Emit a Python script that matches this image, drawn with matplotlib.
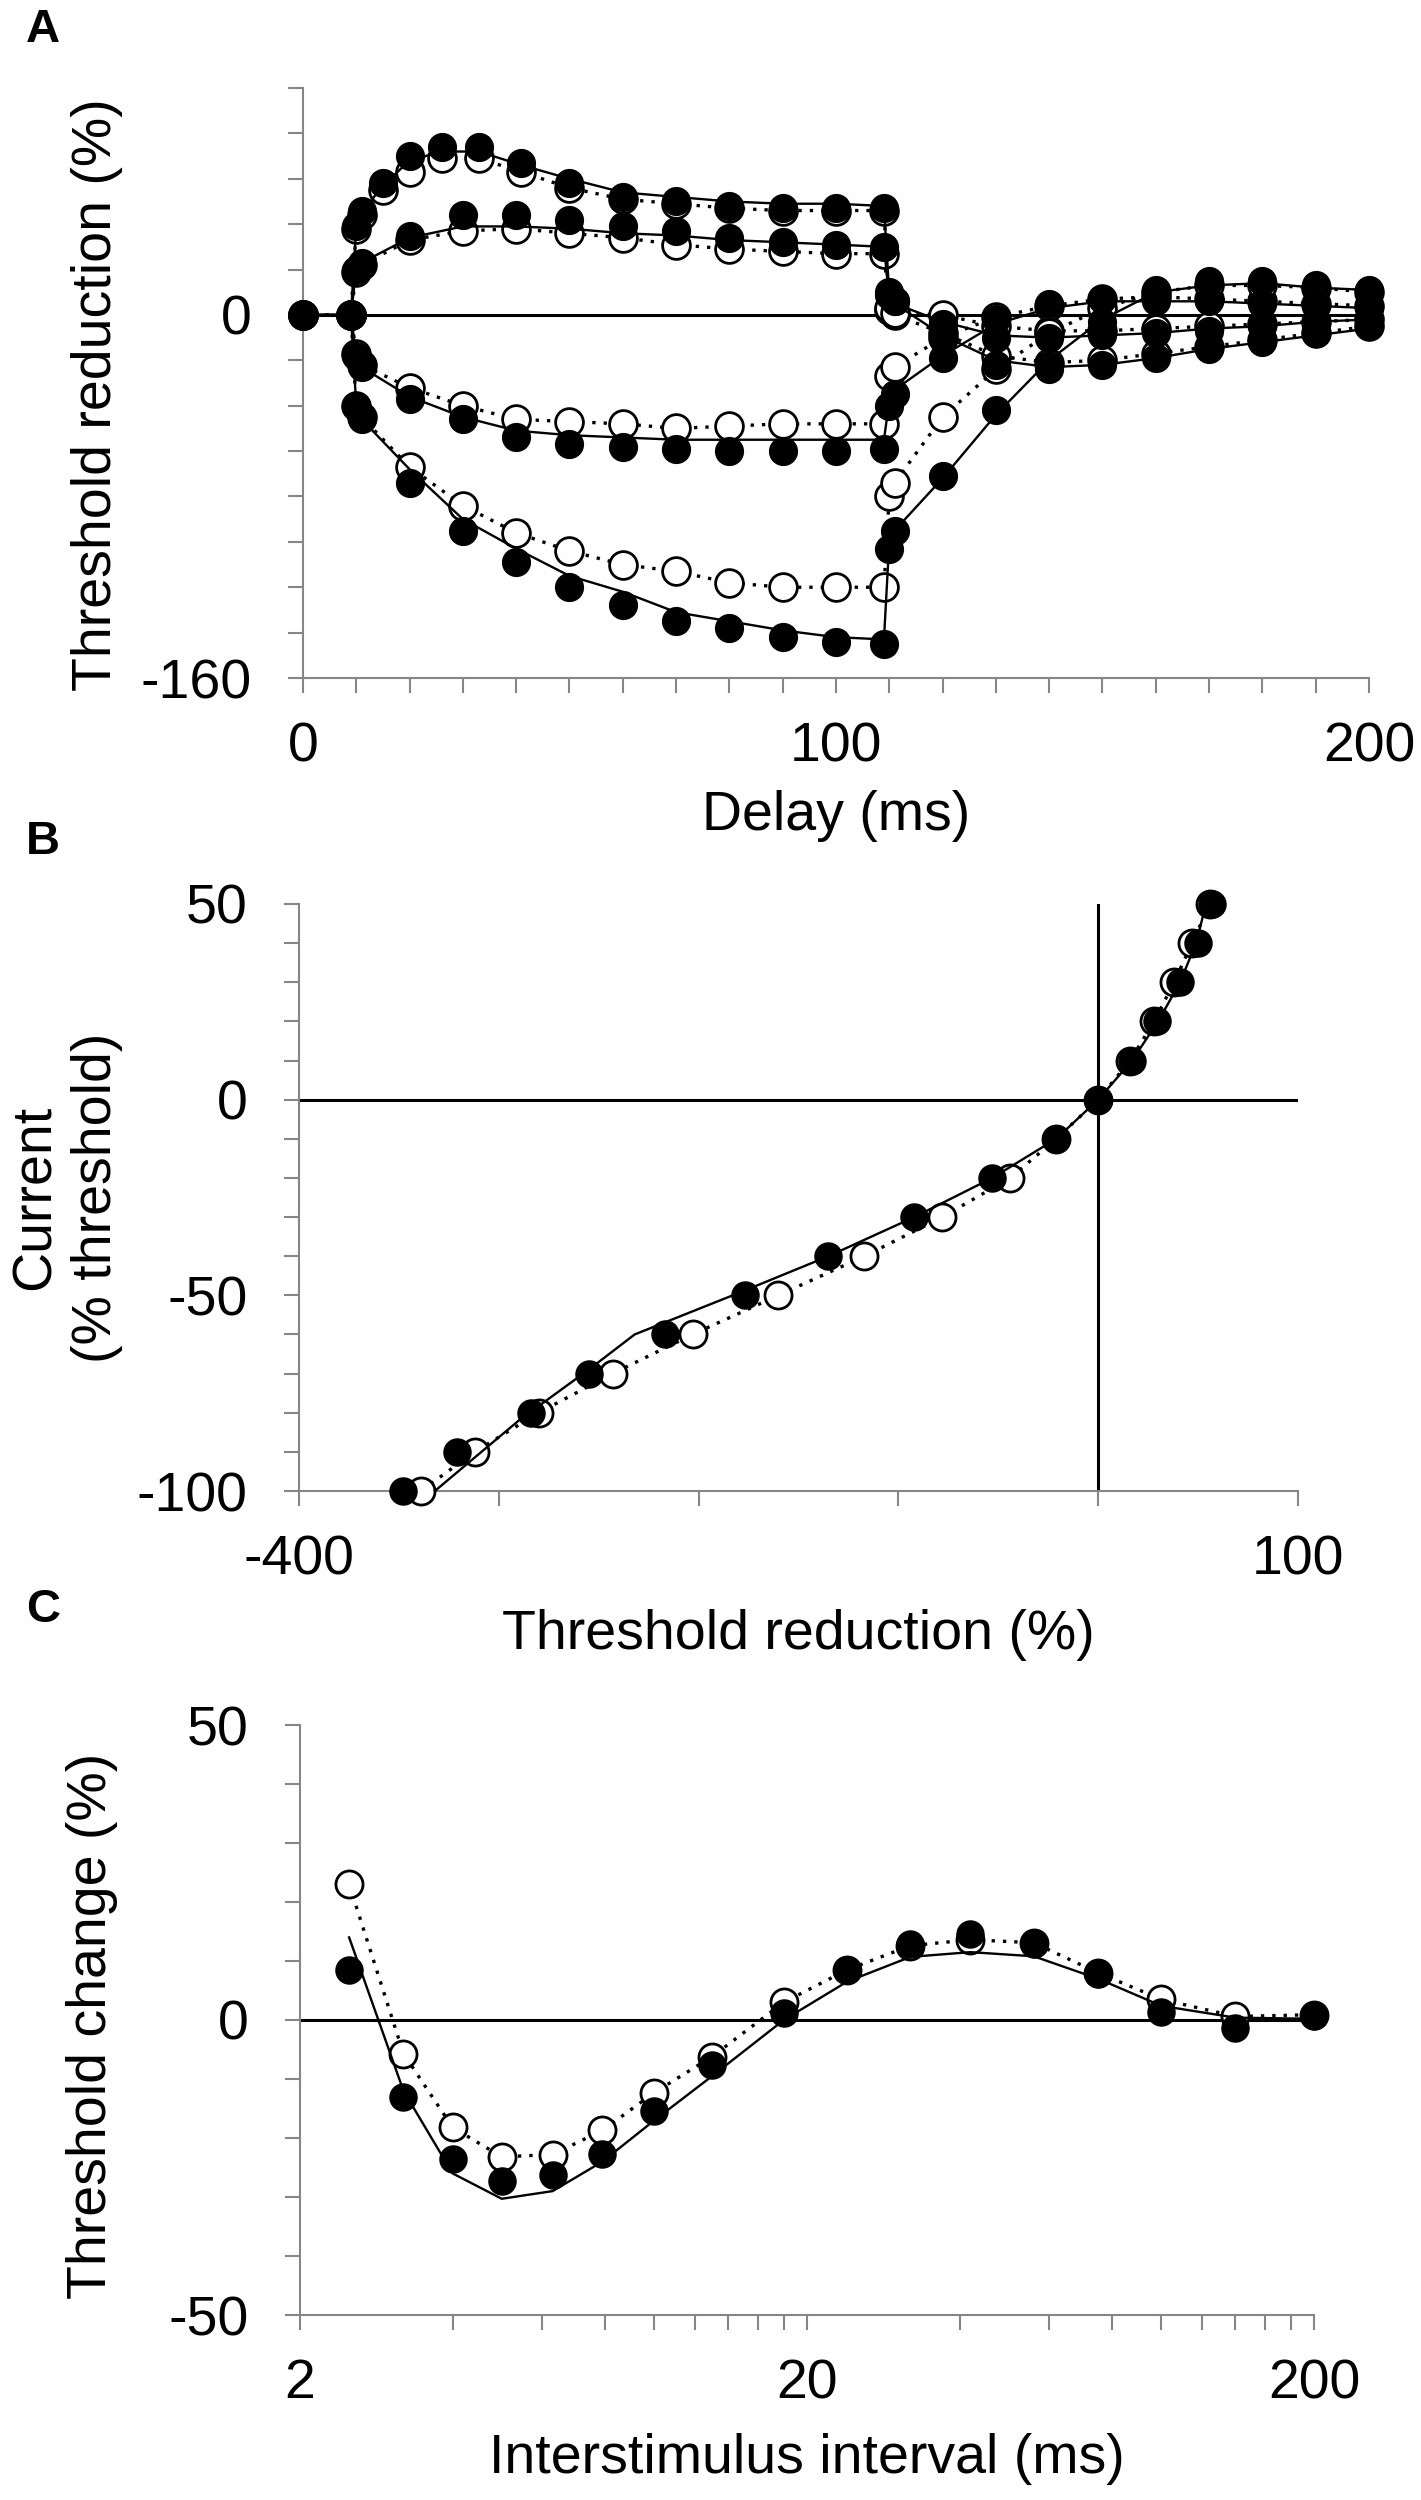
import matplotlib
matplotlib.use("Agg")
import matplotlib.pyplot as plt
from matplotlib.ticker import NullLocator

plt.rcParams['font.family'] = ['Liberation Sans', 'DejaVu Sans']

GRAY = '#868686'
FS = 40

# ---------------- Panel A: threshold electrotonus ----------------
a_x_d40 = [0, 9, 10, 11, 15, 20, 26, 33, 41, 50, 60, 70, 80, 90, 100, 109,
           110, 111, 120, 130, 140, 150, 160, 170, 180, 190, 200]
a_d40_filled = [0, 0, 39, 46, 58, 70, 74, 74, 67, 58, 52, 50, 48, 47, 47, 47,
                10, 6, -10, -22, -24, -22, -19, -15, -12, -8, -5]
a_d40_open = [0, 0, 38, 44, 55, 63, 69, 69, 63, 56, 51, 49, 47, 46, 46, 46,
              2, 0, -8, -18, -21, -20, -17, -14, -11, -8, -5]
a_d40_line = [0, 0, 39, 45, 57, 68, 72, 72, 66, 60, 54, 52, 50, 49, 49, 48,
              9, 5, -9, -20, -23, -22, -19, -15, -12, -9, -6]

a_x = [0, 9, 10, 11, 20, 30, 40, 50, 60, 70, 80, 90, 100, 109,
       110, 111, 120, 130, 140, 150, 160, 170, 180, 190, 200]
a_d20_filled = [0, 0, 20, 23, 35, 44, 44, 42, 39, 37, 34, 32, 31, 30,
                9, 6, -4, -10, -10, -9, -8, -7, -5, -3, -2]
a_d20_open = [0, 0, 19, 22, 33, 37, 38, 36, 34, 31, 29, 28, 27, 27,
              3, 1, 0, -5, -7, -7, -6, -5, -4, -3, -2]
a_d20_line = [0, 0, 20, 23, 34, 39, 39, 38, 36, 35, 33, 32, 31, 30,
              8, 5, -3, -9, -10, -9, -8, -6, -5, -3, -2]

a_h20_filled = [0, 0, -18, -23, -37, -46, -54, -57, -58, -59, -60, -60, -60, -59,
                -40, -35, -19, -2, 5, 7, 6, 6, 5, 4, 3]
a_h20_open = [0, 0, -17, -22, -32, -40, -46, -47, -48, -50, -49, -48, -48, -48,
              -27, -23, -10, -1, 4, 7, 8, 7, 6, 5, 4]
a_h20_line = [0, 0, -18, -23, -36, -45, -51, -53, -54, -55, -55, -55, -55, -55,
              -38, -33, -18, -4, 3, 6, 6, 6, 5, 4, 3]

a_h40_filled = [0, 0, -40, -46, -74, -95, -109, -120, -128, -135, -138, -142, -144, -145,
                -103, -95, -71, -42, -22, -3, 11, 15, 15, 13, 11]
a_h40_open = [0, 0, -40, -45, -67, -84, -96, -104, -110, -113, -118, -120, -120, -120,
              -80, -74, -45, -24, -8, 3, 10, 13, 13, 12, 10]
a_h40_line = [0, 0, -40, -46, -68, -90, -103, -115, -122, -131, -135, -139, -142, -143,
              -100, -95, -72, -44, -20, -2, 10, 13, 14, 12, 11]

# ---------------- Panel B: current-threshold relationship ----------------
b_current = [50, 40, 30, 20, 10, 0, -10, -20, -30, -40, -50, -60, -70, -80, -90, -100]
b_filled = [57, 50, 41, 29.5, 17, 0, -21, -53, -92, -135, -177, -217, -255, -284, -321, -348]
b_open = [56, 47, 38, 28, 16, 0, -21, -44, -78, -117, -160, -203, -243, -280, -312, -339]
b_line_x = [54, 49, 41, 30, 17, 0, -21, -53, -92, -135, -178, -232, -255, -290, -332]
b_line_y = [50, 40, 30, 20, 10, 0, -10, -20, -30, -40, -49, -60, -69, -82, -100]

# ---------------- Panel C: recovery cycle ----------------
c_isi = [2.5, 3.2, 4, 5, 6.3, 7.9, 10, 13, 18, 24, 32, 42, 56, 75, 100, 140, 200]
c_filled = [8.5, -13, -23.5, -27.3, -26.3, -22.7, -15.5, -7.7, 1.2, 8.5, 12.8, 14.6,
            12.8, 7.8, 1.4, -1.4, 0.6]
c_open = [23, -5.7, -18.2, -23.2, -22.8, -18.7, -12.3, -6.2, 3, 8.5, 12.6, 13.6,
          13.1, 8, 3.5, 0.6, 0.9]
c_line = [14, -12, -26, -30.3, -29, -24, -17, -9.5, 0, 6.5, 10.7, 11.5, 10.8, 7,
          2.4, 0.4, 0.2]

MS = 19.5
DOT = (0, (1, 2.4))


def draw_set(ax, x, filled, opn, line, ms=MS, lx=None, ox=None):
    # open markers joined by a dotted line, a plain solid line, then filled markers
    ax.plot(x if ox is None else ox, opn, color='black', lw=2.4, ls=DOT,
            marker='o', ms=ms, mfc='white', mec='black', mew=2.0, zorder=3,
            clip_on=False)
    ax.plot(x if lx is None else lx, line, color='black', lw=1.7, zorder=4,
            clip_on=False)
    ax.plot(x, filled, ls='none', marker='o', ms=ms, mfc='black', mec='black',
            zorder=5, clip_on=False)


def style_axes(ax):
    for s in ['top', 'right']:
        ax.spines[s].set_visible(False)
    for s in ['left', 'bottom']:
        ax.spines[s].set_color(GRAY)
        ax.spines[s].set_linewidth(1.5)
    ax.tick_params(axis='both', direction='out', length=11, width=1.5,
                   color=GRAY, labelsize=FS, labelcolor='black')
    ax.tick_params(axis='y', pad=26)
    ax.tick_params(axis='x', pad=20)


def sparse_labels(ticks, shown):
    return [f"{t:g}" if t in shown else '' for t in ticks]


fig = plt.figure(figsize=(14.21, 25.0), dpi=100)

# Panel A
axA = fig.add_axes([0.2132, 0.7288, 0.7502, 0.236])
axA.axhline(0, color='black', lw=2.2, zorder=2)
draw_set(axA, a_x_d40, a_d40_filled, a_d40_open, a_d40_line, ms=20)
draw_set(axA, a_x, a_d20_filled, a_d20_open, a_d20_line, ms=20)
draw_set(axA, a_x, a_h20_filled, a_h20_open, a_h20_line, ms=20)
draw_set(axA, a_x, a_h40_filled, a_h40_open, a_h40_line, ms=20)
axA.set_xlim(0, 200)
axA.set_ylim(-160, 100)
xt = list(range(0, 201, 10))
axA.set_xticks(xt)
axA.set_xticklabels(sparse_labels(xt, [0, 100, 200]))
yt = list(range(-160, 101, 20))
axA.set_yticks(yt)
axA.set_yticklabels(sparse_labels(yt, [-160, 0]))
style_axes(axA)
axA.set_xlabel('Delay (ms)', fontsize=FS, va='center')
axA.set_ylabel('Threshold reduction (%)', fontsize=FS, va='center')
axA.xaxis.set_label_coords(0.5, -0.234)
axA.yaxis.set_label_coords(-0.193, 0.48)

# Panel B
axB = fig.add_axes([0.2104, 0.4036, 0.7030, 0.2348])
axB.axhline(0, color='black', lw=2.2, zorder=2)
axB.axvline(0, color='black', lw=2.2, zorder=2)
draw_set(axB, b_filled, b_current, b_current, b_line_y, lx=b_line_x, ox=b_open)
axB.set_xlim(-400, 100)
axB.set_ylim(-100, 50)
xt = list(range(-400, 101, 100))
axB.set_xticks(xt)
axB.set_xticklabels(sparse_labels(xt, [-400, 100]))
yt = list(range(-100, 51, 10))
axB.set_yticks(yt)
axB.set_yticklabels(sparse_labels(yt, [-100, -50, 0, 50]))
style_axes(axB)
axB.set_xlabel('Threshold reduction (%)', fontsize=FS, va='center')
axB.set_ylabel('Current\n(% threshold)', fontsize=FS, va='center',
               linespacing=1.25)
axB.xaxis.set_label_coords(0.5, -0.245)
axB.yaxis.set_label_coords(-0.233, 0.5)

# Panel C
axC = fig.add_axes([0.2111, 0.074, 0.7136, 0.236])
axC.set_xscale('log')
axC.axhline(0, color='black', lw=2.2, zorder=2)
draw_set(axC, c_isi, c_filled, c_open, c_line)
axC.set_xlim(2, 200)
axC.set_ylim(-50, 50)
xt = list(range(2, 21, 2)) + list(range(40, 201, 20))
axC.set_xticks(xt)
axC.xaxis.set_minor_locator(NullLocator())
axC.set_xticklabels(sparse_labels(xt, [2, 20, 200]))
yt = list(range(-50, 51, 10))
axC.set_yticks(yt)
axC.set_yticklabels(sparse_labels(yt, [-50, 0, 50]))
style_axes(axC)
axC.set_xlabel('Interstimulus interval (ms)', fontsize=FS, va='center')
axC.set_ylabel('Threshold change (%)', fontsize=FS, va='center')
axC.xaxis.set_label_coords(0.5, -0.244)
axC.yaxis.set_label_coords(-0.205, 0.49)

for letter, y in [('A', 0.988), ('B', 0.663), ('C', 0.356)]:
    fig.text(0.03, y, letter, fontsize=34, fontweight='bold', ha='center', va='center')

fig.savefig('out.png', dpi=100)
